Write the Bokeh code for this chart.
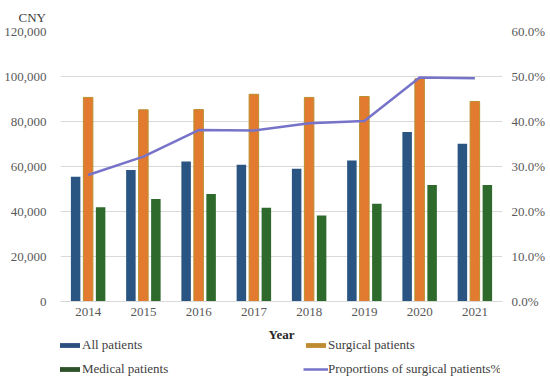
import numpy as np
from bokeh.plotting import figure
from bokeh.layouts import column
from bokeh.models import (FactorRange, Range1d, LinearAxis, NumeralTickFormatter,
                          FixedTicker, Legend, LegendItem, Title, Label, ColumnDataSource)
from bokeh.transform import dodge
from bokeh.embed import file_html
from bokeh.resources import INLINE

years = ["2014", "2015", "2016", "2017", "2018", "2019", "2020", "2021"]
all_patients = [55500, 58500, 62200, 60800, 59000, 62700, 75300, 70100]
surgical_patients = [90700, 85200, 85300, 92100, 90700, 91100, 99000, 88900]
medical_patients = [41900, 45600, 47800, 41700, 38200, 43400, 51800, 51800]
surgical_proportion = [0.281, 0.322, 0.381, 0.380, 0.396, 0.401, 0.498, 0.496]
left_ticks = [0, 20000, 40000, 60000, 80000, 100000, 120000]
right_ticks = [0.0, 0.1, 0.2, 0.3, 0.4, 0.5, 0.6]
series_names = ["All patients", "Surgical patients", "Medical patients",
                "Proportions of surgical patients%"]

FONT = "Liberation Serif"
BLUE = "#2A5583"
ORANGE = "#E27A30"
GOLD = "#B8902F"
GREEN = "#2E6A2C"
LINE = "#7773C9"
W = 546
FW = 442

src = ColumnDataSource(dict(year=years, allp=all_patients, surg=surgical_patients,
                            med=medical_patients, prop=surgical_proportion))

p = figure(x_range=FactorRange(factors=years, range_padding=0),
           y_range=Range1d(0, 120000),
           frame_width=FW, frame_height=270, output_backend="svg", toolbar_location=None,
           min_border_left=60, min_border_right=W - 60 - FW, min_border_top=31,
           min_border_bottom=0)
p.extra_y_ranges = {"pct": Range1d(0, 0.6)}
p.outline_line_color = None

bw = 0.172
p.vbar(x=dodge("year", -0.226, range=p.x_range), top="allp", width=bw, source=src,
       fill_color=BLUE, line_color=None)
p.vbar(x=dodge("year", 0.0, range=p.x_range), top="surg", width=bw, source=src,
       fill_color=ORANGE, line_color=GOLD, line_width=1)
p.vbar(x=dodge("year", 0.226, range=p.x_range), top="med", width=bw, source=src,
       fill_color=GREEN, line_color=None)
p.line(x="year", y="prop", source=src, y_range_name="pct", line_color=LINE, line_width=2.5)

p.xgrid.grid_line_color = None
p.ygrid.grid_line_color = "#D9D9D9"
p.ygrid.ticker = FixedTicker(ticks=left_ticks)

la = p.yaxis[0]
la.ticker = FixedTicker(ticks=left_ticks)
la.formatter = NumeralTickFormatter(format="0,0")

ra = LinearAxis(y_range_name="pct", ticker=FixedTicker(ticks=right_ticks),
                formatter=NumeralTickFormatter(format="0.0%"))
p.add_layout(ra, "right")

for ax, so in ((la, 14), (ra, 9), (p.xaxis[0], 6)):
    ax.axis_line_color = None
    ax.major_tick_line_color = None
    ax.minor_tick_line_color = None
    ax.major_tick_out = 0
    ax.major_tick_in = 0
    ax.major_label_standoff = so
    ax.major_label_text_font = FONT
    ax.major_label_text_font_size = "13px"
    ax.major_label_text_color = "#595959"
p.xaxis[0].axis_line_color = "#D9D9D9"

p.add_layout(Title(text="CNY", align="left", offset=-42, standoff=14,
                   text_font=FONT, text_font_size="13px", text_font_style="normal",
                   text_color="#404040"), "above")

# lower strip: axis title and legend
H2 = 63
q = figure(width=W, height=H2, x_range=Range1d(0, 1), y_range=Range1d(0, 1),
           x_axis_type=None, y_axis_type=None, output_backend="svg",
           toolbar_location=None, min_border=0)
q.outline_line_color = None
q.grid.visible = False

q.add_layout(Label(x=FW / 2, y=H2 - 16, x_units="screen", y_units="screen",
                   text="Year", text_font=FONT, text_font_size="13px",
                   text_font_style="bold", text_color="#262626",
                   text_align="center", text_baseline="middle"))

# legend-only renderers (nothing drawn in the strip)
g_all = q.vbar(x=[np.nan], top=[np.nan], width=1, fill_color="#2B4F7E", line_color=None)
g_surg = q.vbar(x=[np.nan], top=[np.nan], width=1, fill_color="#C08A30", line_color=None)
g_med = q.vbar(x=[np.nan], top=[np.nan], width=1, fill_color="#2D5128", line_color=None)
g_line = q.line(x=[np.nan], y=[np.nan], line_color=LINE, line_width=2.5)

legend = Legend(items=[LegendItem(label=series_names[0], renderers=[g_all]),
                       LegendItem(label=series_names[1], renderers=[g_surg]),
                       LegendItem(label=series_names[2], renderers=[g_med]),
                       LegendItem(label=series_names[3], renderers=[g_line])],
                orientation="horizontal", ncols=2, location=(-3, 4.5),
                padding=0, spacing=8, margin=0,
                glyph_width=25, glyph_height=6, label_standoff=0, label_height=15,
                label_width=213,
                border_line_color=None, background_fill_alpha=0,
                label_text_font=FONT, label_text_font_size="13px",
                label_text_color="#404040")
q.add_layout(legend, "center")

open("out.html", "w").write(file_html(column(p, q), INLINE))
